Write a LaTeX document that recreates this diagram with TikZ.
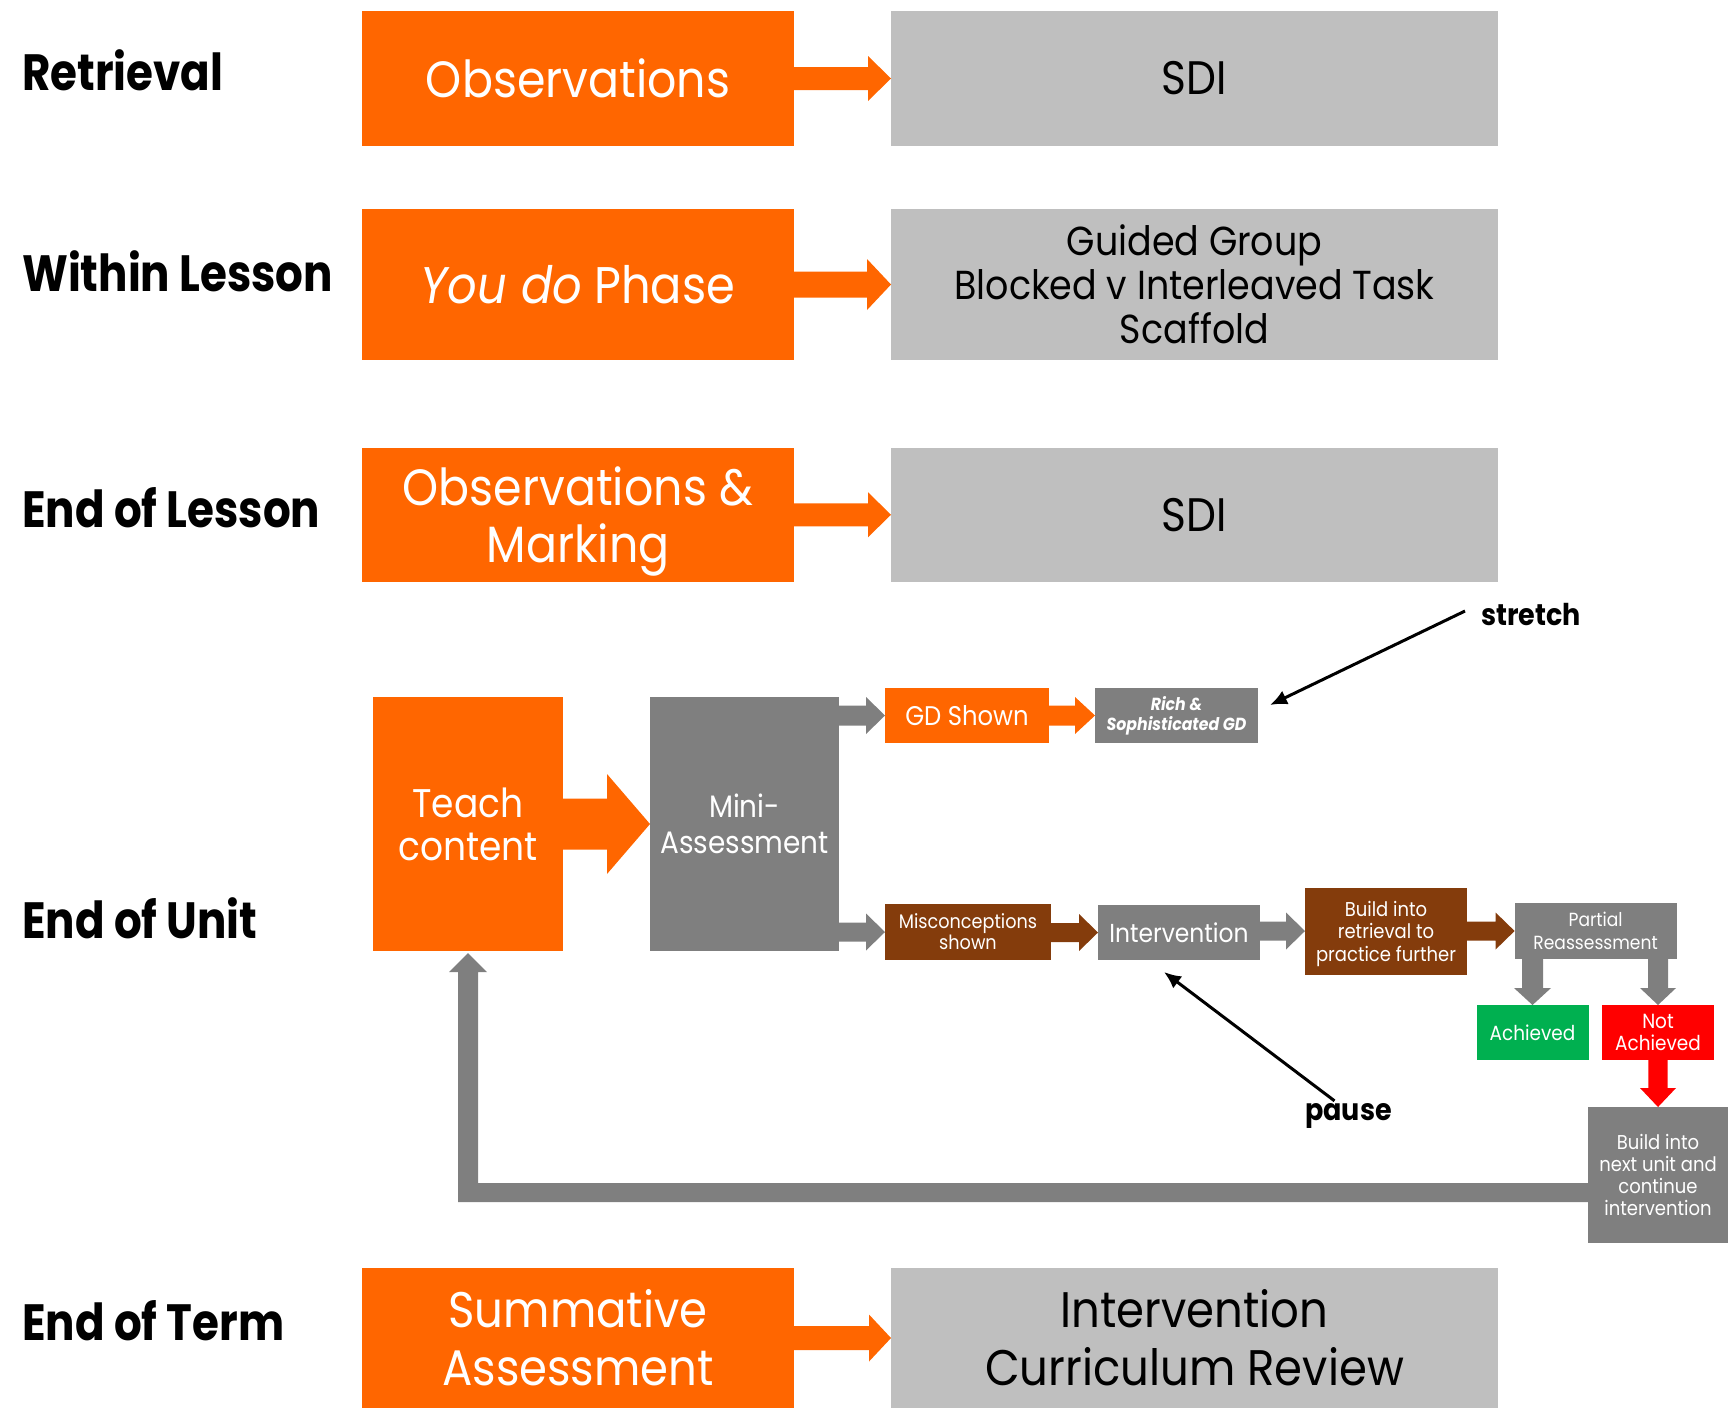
\documentclass[tikz,border=0pt]{standalone}
\usepackage{fontspec}
\setmainfont{Poppins}[FakeStretch=0.9]
\newfontfamily\labelfont{Poppins}[FakeStretch=0.855]
\usetikzlibrary{arrows.meta,calc}

\definecolor{ora}{HTML}{FF6600}
\definecolor{lgrey}{HTML}{BFBFBF}
\definecolor{dgrey}{HTML}{7F7F7F}
\definecolor{brn}{HTML}{843C0C}
\definecolor{grn}{HTML}{00B050}
\definecolor{rd}{HTML}{FF0000}

\newcommand\fsz[2]{\fontsize{#1}{#2}\selectfont}

% horizontal block arrow from #1 to #2: shaft half, head half, head length, colour
\newcommand\harrow[6]{%
  \fill[#6] let \p1=(#1.east), \p2=(#2.west) in
    (\x1,\y2+#3) -- (\x2-#5,\y2+#3) -- (\x2-#5,\y2+#4) -- (\x2,\y2)
    -- (\x2-#5,\y2-#4) -- (\x2-#5,\y2-#3) -- (\x1,\y2-#3) -- cycle;}
% downward block arrow from #1 to #2 (at the x of #2)
\newcommand\varrow[6]{%
  \fill[#6] let \p1=(#1.south), \p2=(#2.north) in
    (\x2-#3,\y1) -- (\x2-#3,\y2+#5) -- (\x2-#4,\y2+#5) -- (\x2,\y2)
    -- (\x2+#4,\y2+#5) -- (\x2+#3,\y2+#5) -- (\x2+#3,\y1) -- cycle;}

\tikzset{
  box/.style 2 args={rectangle, inner sep=0pt, outer sep=0pt, align=center,
    minimum width=#1pt, minimum height=#2pt},
  obox/.style={fill=ora, text=white},
  lbox/.style={fill=lgrey, text=black},
  gbox/.style={fill=dgrey, text=white},
  bbox/.style={fill=brn, text=white},
  rowlabel/.style={anchor=base west, inner sep=0pt, font=\labelfont\bfseries\fsz{51}{60}},
  pointer/.style={draw=black, line width=3pt, -{Latex[length=17pt,width=15pt]}},
  note/.style={inner sep=0pt, font=\bfseries\fsz{30}{36}},
}

\begin{document}
\begin{tikzpicture}[x=1pt,y=-1pt]
\useasboundingbox (0,0) rectangle (1728,1408);

% row labels
\node[rowlabel] (lretr) at (22,90)   {Retrieval};
\node[rowlabel] (lwith) at (22,291)  {Within Lesson};
\node[rowlabel] (lendl) at (22,527)  {End of Lesson};
\node[rowlabel] (lendu) at (22,938)  {End of Unit};
\node[rowlabel] (lendt) at (22,1340) {End of Term};

% retrieval
\node[box={432}{135}, obox, font=\fsz{51}{56}] (obs1) at (578,78.5) {Observations};
\node[box={607}{135}, lbox, font=\fsz{47}{56}] (sdi1) at (1194.5,78.5) {SDI};
\harrow{obs1}{sdi1}{11.5pt}{22.5pt}{23pt}{ora}

% within lesson
\node[box={432}{151}, obox, font=\fsz{51.5}{56}] (youdo) at (578,284.5) {\textit{You do} Phase};
\node[box={607}{151}, lbox, font=\fsz{40.5}{44}] (guided) at (1194.5,284.5)
  {Guided Group\\Blocked v Interleaved Task\\Scaffold};
\harrow{youdo}{guided}{13pt}{25.5pt}{24pt}{ora}

% end of lesson
\node[box={432}{134.5}, obox, font=\fsz{51}{57}, text depth=0pt] (obs3) at (578,514.75) {Observations \&\\Marking};
\node[box={607}{134.5}, lbox, font=\fsz{47}{56}] (sdi3) at (1194.5,514.75) {SDI};
\harrow{obs3}{sdi3}{11.5pt}{22.5pt}{23pt}{ora}

% end of term
\node[box={432}{140}, obox, font=\fsz{50}{58}] (summ) at (578,1338) {Summative\\Assessment};
\node[box={607}{140}, lbox, font=\fsz{50}{58}] (review) at (1194.5,1338) {Intervention\\Curriculum Review};
\harrow{summ}{review}{12pt}{23.5pt}{22pt}{ora}

% end of unit flow
\node[box={190}{254}, obox, font=\fsz{40}{43}] (teach) at (468,824) {Teach\\content};
\node[box={189}{254}, gbox, font=\fsz{31}{36}] (mini) at (744.5,824) {Mini-\\Assessment};
\harrow{teach}{mini}{25.5pt}{50pt}{43pt}{ora}

\node[box={164}{55}, obox, font=\fsz{27}{30}] (gd) at (967,715.5) {GD Shown};
\node[box={163}{55}, gbox, font=\bfseries\itshape\fsz{17.5}{20}] (rich) at (1176.5,715.5) {Rich \&\\Sophisticated GD};
\harrow{mini}{gd}{10pt}{18.5pt}{19pt}{dgrey}
\harrow{gd}{rich}{10pt}{18.5pt}{20pt}{ora}

\node[box={166}{56}, bbox, font=\fsz{19.6}{21}] (misc) at (968,932) {Misconceptions\\shown};
\node[box={162}{55}, gbox, font=\fsz{26}{30}] (intv) at (1179,932.5) {Intervention};
\node[box={162}{87}, bbox, font=\fsz{20}{22.5}, text depth=0pt] (bret) at (1386,931) {Build into\\retrieval to\\practice further};
\node[box={162}{56}, gbox, font=\fsz{19}{22.5}] (partial) at (1595.6,931) {Partial\\Reassessment};
\harrow{mini}{misc}{9.5pt}{18.5pt}{19pt}{dgrey}
\harrow{misc}{intv}{9.5pt}{18.5pt}{19pt}{brn}
\harrow{intv}{bret}{9.5pt}{18.5pt}{19pt}{dgrey}
\harrow{bret}{partial}{9.5pt}{18.5pt}{19pt}{brn}

\node[box={112}{55}, fill=grn, text=white, font=\fsz{20.5}{22}] (ach) at (1532.5,1032.5) {Achieved};
\node[box={112}{55}, fill=rd, text=white, font=\fsz{20.5}{21.5}] (nach) at (1658,1032.5) {Not\\Achieved};
\varrow{partial}{ach}{10.5pt}{18.5pt}{17pt}{dgrey}
\varrow{partial}{nach}{10pt}{18pt}{17pt}{dgrey}

\node[box={140}{136}, gbox, font=\fsz{20}{21.7}] (bnext) at (1658,1175) {Build into\\next unit and\\continue\\intervention};
\varrow{nach}{bnext}{9.7pt}{18pt}{19pt}{rd}

% feedback loop back to teaching
\coordinate (fbturn) at (468,1192.5);
\fill[dgrey] let \p1=(bnext.west), \p2=(teach.south), \p3=(fbturn) in
  (\x1,\y3+9.5pt) -- (\x3+10pt,\y3+9.5pt) -- (\x3+10pt,\y2-21pt) -- (\x3+19pt,\y2-21pt)
  -- (\x3,\y2-2pt) -- (\x3-19pt,\y2-21pt) -- (\x3-10pt,\y2-21pt) -- (\x3-10pt,\y3-9.5pt)
  -- (\x1,\y3-9.5pt) -- cycle;

% annotations
\node[note, anchor=base west] (stretch) at (1481,625) {stretch};
\coordinate (stretchtip) at (1270,705);
\draw[pointer] ([xshift=-16pt,yshift=3pt]stretch.west) -- (stretchtip);

\node[note, anchor=base west] (pause) at (1305,1120) {pause};
\coordinate (pausetip) at (1164,972);
\draw[pointer] ([xshift=-14pt,yshift=2pt]pause.north) -- (pausetip);
\end{tikzpicture}
\end{document}
